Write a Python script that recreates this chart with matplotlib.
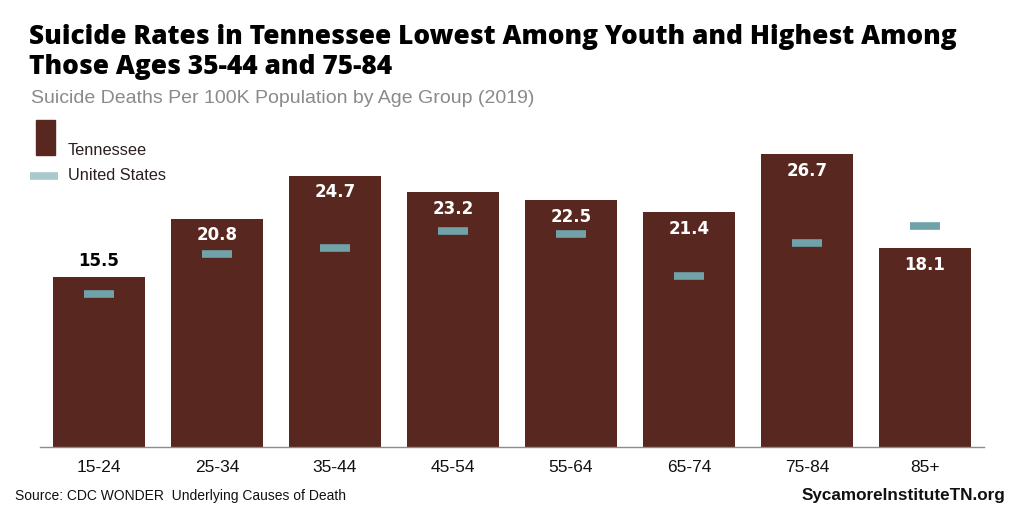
import matplotlib
matplotlib.use("Agg")
import matplotlib.pyplot as plt
from matplotlib.patches import Rectangle
from matplotlib.lines import Line2D

categories = ["15-24", "25-34", "35-44", "45-54", "55-64", "65-74", "75-84", "85+"]
tennessee = [15.5, 20.8, 24.7, 23.2, 22.5, 21.4, 26.7, 18.1]
united_states = [13.9, 17.6, 18.1, 19.7, 19.4, 15.6, 18.6, 20.1]

BAR = "#58271f"
US = "#6fa3a9"
US_LEG = "#a9c9cd"

W, H = 1024, 512
fig = plt.figure(figsize=(W / 100, H / 100), dpi=100)
ax = fig.add_axes([40 / W, (H - 446.5) / H, 944 / W, 327 / H])
x = list(range(len(categories)))
ax.bar(x, tennessee, width=0.78, color=BAR, zorder=2)
ax.set_xlim(-0.5, len(categories) - 0.5)
ax.set_ylim(0, 29.86)
for xi, v in zip(x, united_states):
    ax.plot([xi - 0.125, xi + 0.125], [v, v], color=US, lw=5.5,
            solid_capstyle="butt", zorder=3)
for xi, v in zip(x, tennessee):
    if v < 17:
        ax.text(xi, v + 1.45, f"{v:.1f}", ha="center", va="center",
                fontsize=12, fontweight="bold", color="black",
                family="DejaVu Sans")
    else:
        ax.text(xi, v - 1.5, f"{v:.1f}", ha="center", va="center",
                fontsize=12, fontweight="bold", color="white",
                family="DejaVu Sans")

for s in ["top", "right", "left"]:
    ax.spines[s].set_visible(False)
ax.spines["bottom"].set_color("#8c8c8c")
ax.spines["bottom"].set_linewidth(1.0)
ax.set_yticks([])
ax.set_xticks(x)
ax.set_xticklabels(categories, fontsize=12.5, family="Liberation Sans", color="#111111")
ax.tick_params(axis="x", length=0, pad=10)

# Title and subtitle
fig.text(29 / W, 1 - 44 / H, "Suicide Rates in Tennessee Lowest Among Youth and Highest Among",
         fontsize=18.9, fontweight=800, family="Open Sans", color="black", va="baseline")
fig.text(29 / W, 1 - 74 / H, "Those Ages 35-44 and 75-84",
         fontsize=18.9, fontweight=800, family="Open Sans", color="black", va="baseline")
fig.text(31 / W, 1 - 103 / H, "Suicide Deaths Per 100K Population by Age Group (2019)",
         fontsize=14, family="Liberation Sans", color="#8a8a8a", va="baseline")

# Legend
fig.patches.append(Rectangle((36 / W, 1 - 155 / H), 19 / W, 35 / H,
                             transform=fig.transFigure, color=BAR))
fig.text(68 / W, 1 - 155 / H, "Tennessee", fontsize=11.8, family="Liberation Sans",
         color="#2b1f1f", va="baseline")
fig.lines.append(Line2D([30 / W, 58 / W], [1 - 175.5 / H, 1 - 175.5 / H],
                        transform=fig.transFigure, color=US_LEG, lw=5.5,
                        solid_capstyle="butt"))
fig.text(68 / W, 1 - 175.5 / H, "United States", fontsize=11.8, family="Liberation Sans",
         color="#2b1f1f", va="center")

# Footer
fig.text(15 / W, 1 - 500 / H, "Source: CDC WONDER  Underlying Causes of Death",
         fontsize=10, family="Liberation Sans", color="#111111", va="baseline")
fig.text(1005 / W, 1 - 500 / H, "SycamoreInstituteTN.org",
         fontsize=12.3, fontweight="bold", family="Liberation Sans",
         color="#111111", va="baseline", ha="right")

fig.savefig("out.png", dpi=100)
